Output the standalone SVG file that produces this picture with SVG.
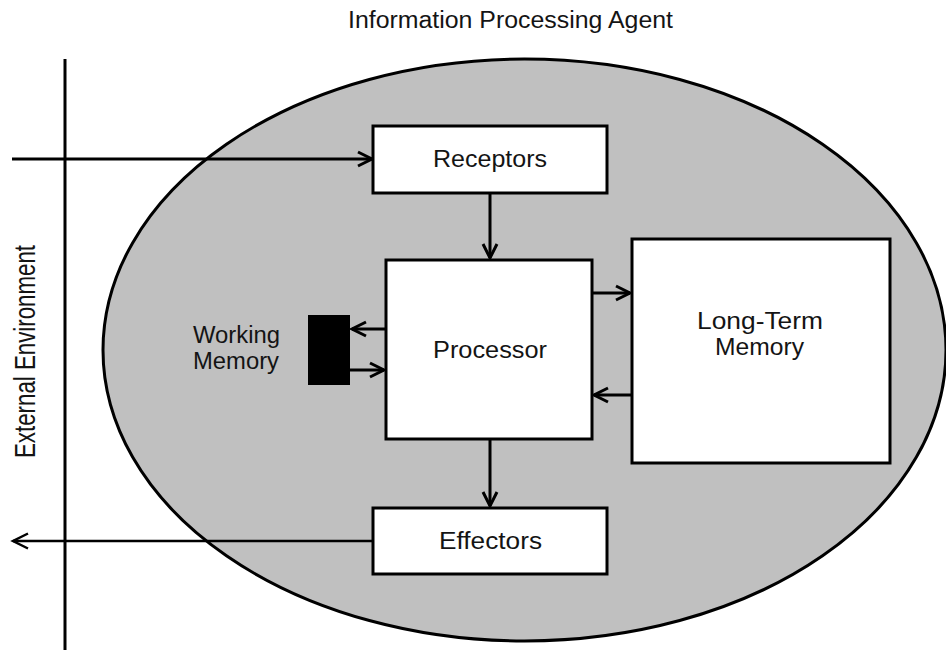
<svg xmlns="http://www.w3.org/2000/svg" width="946" height="650" viewBox="0 0 946 650">
  <defs>
    <marker id="arrow" markerUnits="userSpaceOnUse" markerWidth="20" markerHeight="20" viewBox="-16 -10 20 20" refX="0" refY="0" orient="auto">
      <path d="M -14,-7 L 0,0 L -14,7" fill="none" stroke="#000" stroke-width="3" stroke-linejoin="miter"/>
    </marker>
    <marker id="arrow-thin" markerUnits="userSpaceOnUse" markerWidth="20" markerHeight="20" viewBox="-16 -10 20 20" refX="0" refY="0" orient="auto">
      <path d="M -15,-7.5 L 0,0 L -15,7.5" fill="none" stroke="#000" stroke-width="2.5"/>
    </marker>
  </defs>
  <style>
    .box { fill: #ffffff; stroke: #000; stroke-width: 3; }
    .lbl { font-family: "Liberation Sans", Arial, sans-serif; font-size: 23px; fill: #141414; }
    .conn { stroke: #000; stroke-width: 3; fill: none; }
  </style>

  <rect width="946" height="650" fill="#ffffff"/>

  <!-- title -->
  <text class="lbl" x="348" y="28" font-size="20.5" textLength="325" lengthAdjust="spacingAndGlyphs">Information Processing Agent</text>

  <!-- agent boundary -->
  <g id="agent">
    <ellipse cx="524.5" cy="350" rx="421.5" ry="291" fill="#c0c0c0" stroke="#000" stroke-width="3"/>
  </g>

  <!-- environment boundary -->
  <g id="environment">
    <line x1="65" y1="59" x2="65" y2="650" stroke="#000" stroke-width="3"/>
    <text class="lbl" transform="translate(35,351.5) scale(1.25,1) rotate(-90)" x="-106.5" y="0" font-size="22.5" textLength="213" lengthAdjust="spacingAndGlyphs">External Environment</text>
  </g>

  <!-- connectors -->
  <g id="connectors">
    <line class="conn" x1="12" y1="159" x2="372" y2="159" marker-end="url(#arrow)"/>
    <line class="conn" x1="490" y1="193" x2="490" y2="258" marker-end="url(#arrow)"/>
    <line class="conn" x1="592" y1="293" x2="630" y2="293" marker-end="url(#arrow)"/>
    <line class="conn" x1="632" y1="395" x2="594" y2="395" marker-end="url(#arrow)"/>
    <line class="conn" x1="386" y1="329" x2="352" y2="329" marker-end="url(#arrow)"/>
    <line class="conn" x1="350" y1="370" x2="384" y2="370" marker-end="url(#arrow)"/>
    <line class="conn" x1="490" y1="439" x2="490" y2="506" marker-end="url(#arrow)"/>
    <line x1="373" y1="541" x2="13" y2="541" stroke="#000" stroke-width="2.5" marker-end="url(#arrow-thin)"/>
  </g>

  <g id="receptors">
    <rect class="box" x="373" y="126" width="234" height="67"/>
    <text class="lbl" x="433" y="167" textLength="114" lengthAdjust="spacingAndGlyphs">Receptors</text>
  </g>

  <g id="processor">
    <rect class="box" x="386" y="260" width="206" height="179"/>
    <text class="lbl" x="433" y="358" textLength="114" lengthAdjust="spacingAndGlyphs">Processor</text>
  </g>

  <g id="long-term-memory">
    <rect class="box" x="632" y="239" width="258" height="224"/>
    <text class="lbl" x="697" y="329" textLength="126" lengthAdjust="spacingAndGlyphs">Long-Term</text>
    <text class="lbl" x="715" y="355" textLength="89" lengthAdjust="spacingAndGlyphs">Memory</text>
  </g>

  <g id="working-memory">
    <rect x="308" y="315" width="42" height="70" fill="#000"/>
    <text class="lbl" x="193" y="343" textLength="87" lengthAdjust="spacingAndGlyphs">Working</text>
    <text class="lbl" x="193" y="369" textLength="86" lengthAdjust="spacingAndGlyphs">Memory</text>
  </g>

  <g id="effectors">
    <rect class="box" x="373" y="508" width="234" height="66"/>
    <text class="lbl" x="439" y="549" textLength="103" lengthAdjust="spacingAndGlyphs">Effectors</text>
  </g>
</svg>
